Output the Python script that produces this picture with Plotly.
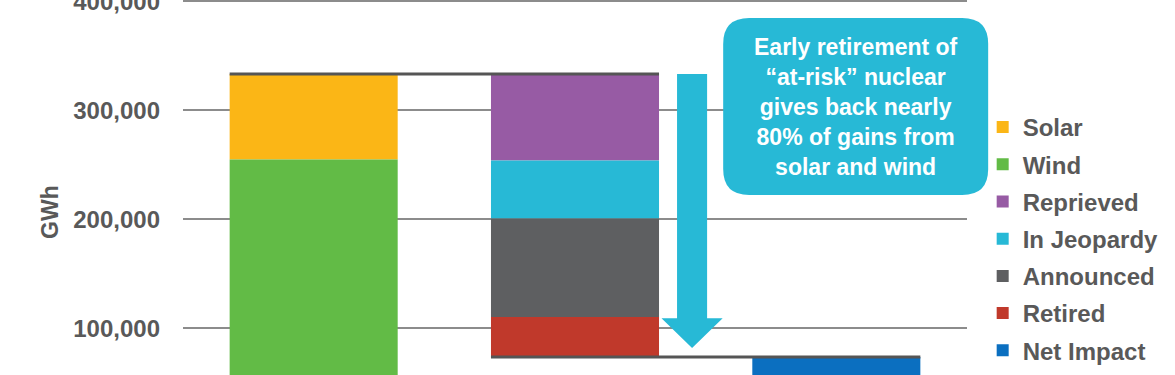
import plotly.graph_objects as go

# ---- data ----
categories = ["Solar & Wind", "At-risk Nuclear", "Net Impact"]
wind = 254700
solar = 78600
reprieved = 79500
in_jeopardy = 53100
announced = 90500
retired = 36600
net_impact = 73600

series_names = ["Solar", "Wind", "Reprieved", "In Jeopardy", "Announced", "Retired", "Net Impact"]
colors = {
    "Solar": "#FBB616",
    "Wind": "#62BB46",
    "Reprieved": "#975BA4",
    "In Jeopardy": "#27B9D6",
    "Announced": "#5E5F61",
    "Retired": "#C0392B",
    "Net Impact": "#0B6FC0",
}
tick_vals = [100000, 200000, 300000, 400000]
tick_text = ["100,000", "200,000", "300,000", "400,000"]

# ---- derived bases ----
total_gain = wind + solar
bases = {
    "Wind": (categories[0], 0, wind),
    "Solar": (categories[0], wind, solar),
    "Retired": (categories[1], net_impact, retired),
    "Announced": (categories[1], net_impact + retired, announced),
    "In Jeopardy": (categories[1], net_impact + retired + announced, in_jeopardy),
    "Reprieved": (categories[1], net_impact + retired + announced + in_jeopardy, reprieved),
    "Net Impact": (categories[2], 0, net_impact),
}

TXT = "#595959"
FONT = "Liberation Sans, Arial, sans-serif"
BW = 0.643

fig = go.Figure()
for i, name in enumerate(series_names):
    cat, base, val = bases[name]
    fig.add_trace(go.Bar(
        x=[cat], y=[val], base=[base], name=name,
        marker=dict(color=colors[name], line=dict(width=0)),
        width=BW, legendgroup=f"g{i}",
    ))

# connector lines
fig.add_shape(type="line", xref="x", yref="y", x0=-BW / 2, x1=1 + BW / 2,
              y0=total_gain, y1=total_gain, line=dict(color="#555555", width=3))
fig.add_shape(type="line", xref="x", yref="y", x0=1 - BW / 2, x1=2 + BW / 2,
              y0=net_impact, y1=net_impact, line=dict(color="#555555", width=3))

# downward arrow
cx = 1.448
sw = 0.0575
hw = 0.117
head_top = 109000
tip = 81700
arrow = (f"M {cx - sw},{total_gain} L {cx + sw},{total_gain} L {cx + sw},{head_top} "
         f"L {cx + hw},{head_top} L {cx},{tip} L {cx - hw},{head_top} L {cx - sw},{head_top} Z")
fig.add_shape(type="path", xref="x", yref="y", path=arrow,
              fillcolor="#27B9D6", line=dict(width=0))

# rounded callout box (paper coords)
x0, x1, y0, y1 = 0.689, 1.027, 0.48, 0.952
rx, ry = 26 / 784, 26 / 375
box = (f"M {x0 + rx},{y1} L {x1 - rx},{y1} Q {x1},{y1} {x1},{y1 - ry} "
       f"L {x1},{y0 + ry} Q {x1},{y0} {x1 - rx},{y0} L {x0 + rx},{y0} "
       f"Q {x0},{y0} {x0},{y0 + ry} L {x0},{y1 - ry} Q {x0},{y1} {x0 + rx},{y1} Z")
fig.add_shape(type="path", xref="paper", yref="paper", path=box,
              fillcolor="#27B9D6", line=dict(width=0), layer="above")
fig.add_annotation(
    xref="paper", yref="paper", x=(x0 + x1) / 2, y=0.715,
    xanchor="center", yanchor="middle", showarrow=False,
    text="<b>Early retirement of<br>“at-risk” nuclear<br>gives back nearly<br>80% of gains from<br>solar and wind</b>",
    font=dict(family=FONT, size=23, color="white"), align="center",
)

# y-axis title
fig.add_annotation(
    xref="paper", yref="paper", x=-0.1696, y=0.435,
    xanchor="center", yanchor="middle", showarrow=False, textangle=-90,
    text="<b>GWh</b>", font=dict(family=FONT, size=23, color=TXT),
)

fig.update_layout(
    width=1175, height=375,
    margin=dict(l=183, r=208, t=0, b=0, pad=0, autoexpand=False),
    paper_bgcolor="white", plot_bgcolor="white",
    barmode="overlay",
    showlegend=True,
    legend=dict(
        x=1.02, xanchor="left", y=0.72, yanchor="top",
        traceorder="grouped", tracegroupgap=3,
        font=dict(family=FONT, size=24, color=TXT, weight="bold"),
        bgcolor="rgba(0,0,0,0)",
    ),
    font=dict(family=FONT, color=TXT),
)
fig.update_xaxes(type="category", categoryorder="array", categoryarray=categories,
                 range=[-0.5, 2.5], showticklabels=False, showgrid=False,
                 zeroline=False, showline=False, ticks="", automargin=False)
fig.update_yaxes(range=[57000, 401100], tickvals=tick_vals, ticktext=tick_text,
                 showgrid=True, gridcolor="#8C8C8C", gridwidth=1.5, zeroline=False,
                 showline=False, ticks="", ticklabelstandoff=22, automargin=False,
                 ticklabeloverflow="allow",
                 tickfont=dict(family=FONT, size=24, color=TXT, weight="bold"))

fig.write_html("out.html")
